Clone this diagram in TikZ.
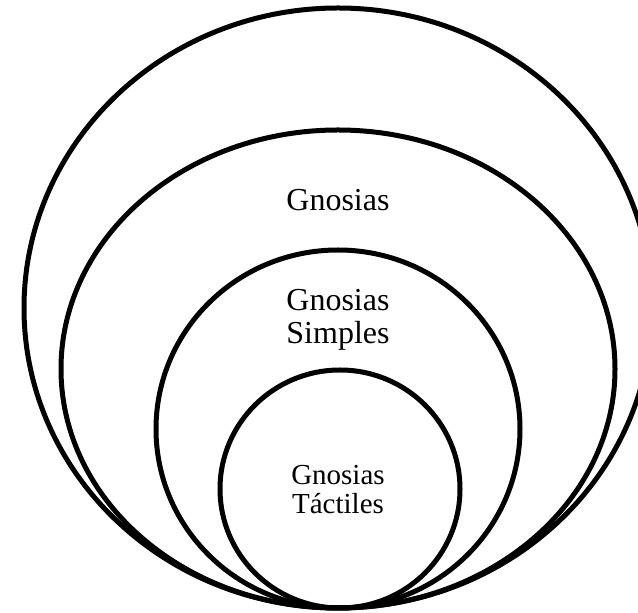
\documentclass[tikz,border=0pt]{standalone}
\usepackage{fontspec}
\setmainfont{Liberation Serif}
\begin{document}
\begin{tikzpicture}[x=1pt,y=1pt,
  ring/.style={draw=black,line width=5pt},
  bigtext/.style={font=\fontsize{32}{33.5}\selectfont,align=center,inner sep=0pt,anchor=base},
  smalltext/.style={font=\fontsize{29}{29.5}\selectfont,align=center,inner sep=0pt,anchor=base}]
\useasboundingbox (0,0) rectangle (638,613);
\clip (0,0) rectangle (638,613);
\draw[ring] (338,305) ellipse [x radius=314, y radius=300];
\draw[ring] (338,244) ellipse [x radius=277, y radius=239];
\draw[ring] (338,184) ellipse [x radius=182, y radius=179];
\draw[ring] (340,124) ellipse [x radius=120, y radius=119];
\node[bigtext] (gn) at (338,402) {Gnosias};
\node[bigtext] (gs) at (338,269) {Gnosias\\Simples};
\node[smalltext] (gt) at (338,99) {Gnosias\\Táctiles};
\end{tikzpicture}
\end{document}
